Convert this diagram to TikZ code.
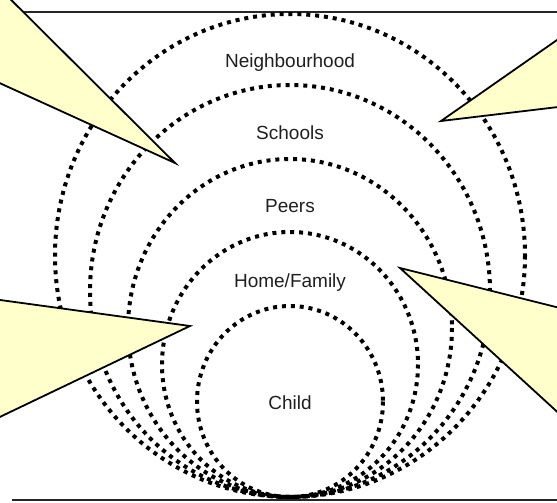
\documentclass[tikz,border=0pt]{standalone}
\usepackage{fontspec}
\setmainfont{Liberation Sans}
\definecolor{calloutyellow}{RGB}{255,255,204}
\begin{document}
\begin{tikzpicture}[x=1pt,y=-1pt,
  ring/.style={line width=4pt,dash pattern=on 4pt off 4.9pt},
  callout/.style={fill=calloutyellow,draw=black,line width=1.8pt,line join=miter},
  ringtext/.style={anchor=base,font=\fontsize{19}{22}\selectfont,text=black!88}]
\def \cx {290};
\def \cy {497};
\useasboundingbox (0,0) rectangle (557,503);
\clip (0,0) rectangle (557,503);
% Rahmen oben und unten
\draw[line width=2.4pt,black!85] (12,12) -- (580,12);
\draw[line width=2.4pt,black!85] (12,500) -- (580,500);
% Kreise, unten beruehrend
\foreach \rx/\ry in {235/241.5,200/206,162/169,128/132.5,93/95.5}
\draw[ring] (\cx,\cy-\ry) ellipse ({\rx} and {\ry});
% Beschriftung
\node[ringtext] (hood) at (\cx,67) {Neighbourhood};
\node[ringtext] (schools) at (\cx,139) {Schools};
\node[ringtext] (peers) at (\cx,212) {Peers};
\node[ringtext] (family) at (\cx,287) {Home/Family};
\node[ringtext] (child) at (\cx,409) {Child};
% Sprechblasen
\filldraw[callout] (175,163) -- (-40,65) -- (-40,-51) -- cycle;
\filldraw[callout] (441,121) -- (600,10) -- (600,102) -- cycle;
\filldraw[callout] (190,326) -- (-40,294.5) -- (-40,436) -- cycle;
\filldraw[callout] (400,268) -- (600,318) -- (600,451) -- cycle;
\end{tikzpicture}
\end{document}
